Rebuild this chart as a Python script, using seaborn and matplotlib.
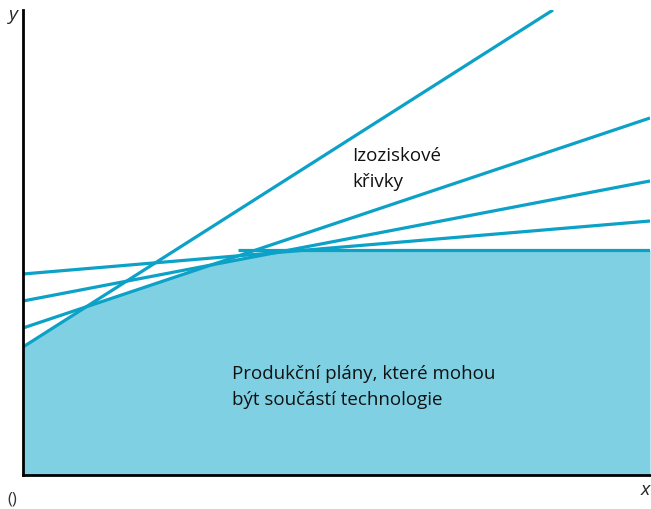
import numpy as np
import pandas as pd
import matplotlib
matplotlib.use("Agg")
import matplotlib.pyplot as plt
import seaborn as sns

# ---- data (axis units ~ pixels) ----
line_ids    = ["a", "a", "b", "b", "c", "c", "d", "d", "flat", "flat"]
line_x      = [0, 530, 0, 627, 0, 627, 0, 627, 215, 627]
line_y      = [128, 465, 147, 357, 174, 294, 201, 254, 225, 225]

# upper boundary of the technology set
set_x = [0, 63, 187, 253, 284, 627]
set_y = [128, 168, 210, 222, 225, 225]

LINE_COL = "#0ca1c7"
FILL_COL = "#7fd0e3"

sns.set_style("white")
plt.rcParams["font.family"] = ["Open Sans", "DejaVu Sans"]

fig = plt.figure(figsize=(6.51, 5.09), dpi=100)
ax = fig.add_axes([23 / 651, 34 / 509, 627 / 651, 465 / 509])

ax.fill_between(set_x, set_y, 0, color=FILL_COL, linewidth=0, zorder=1)

lines = pd.DataFrame({"id": line_ids, "x": line_x, "y": line_y})
sns.lineplot(data=lines, x="x", y="y", units="id", estimator=None,
             color=LINE_COL, linewidth=2.3, sort=False, ax=ax, zorder=2)
for ln in ax.get_lines():
    ln.set_solid_capstyle("butt")

ax.set_xlim(0, 627)
ax.set_ylim(0, 465)
ax.set_xticks([])
ax.set_yticks([])
ax.set_xlabel("")
ax.set_ylabel("")
for s in ["top", "right"]:
    ax.spines[s].set_visible(False)
for s in ["left", "bottom"]:
    ax.spines[s].set_color("black")
    ax.spines[s].set_linewidth(2)
    ax.spines[s].set_zorder(5)

ax.text(329, 306, "Izoziskové\nkřivky", fontsize=13.5, color="#111111",
        ha="left", va="center", linespacing=1.55)
ax.text(209, 88, "Produkční plány, které mohou\nbýt součástí technologie",
        fontsize=13.5, color="#111111", ha="left", va="center", linespacing=1.55)

fig.text(13 / 651, 1 - 15 / 509, "y", fontsize=14, style="italic",
         ha="center", va="center")
fig.text(645 / 651, 1 - 490 / 509, "x", fontsize=14, style="italic",
         ha="center", va="center")
fig.text(12 / 651, 1 - 500 / 509, "()", fontsize=12, color="#333333",
         ha="center", va="center")

fig.savefig("out.png", dpi=100)
